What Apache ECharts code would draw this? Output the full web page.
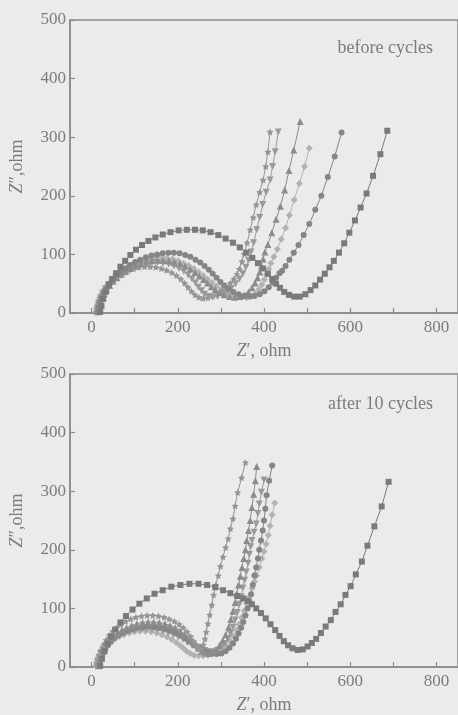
<!DOCTYPE html>
<html>
<head>
<meta charset="utf-8">
<script src="https://cdn.jsdelivr.net/npm/echarts@6/dist/echarts.min.js"></script>
<style>
html,body{margin:0;padding:0;background:#ebebeb;}
#c{width:458px;height:715px;}
</style>
</head>
<body>
<div id="c"></div>
<script>
// ---- tick labels ----
const xLabels = [0, 200, 400, 600, 800];
const xTicks = [0, 100, 200, 300, 400, 500, 600, 700, 800];
const yLabels = [0, 100, 200, 300, 400, 500];
const panelTitles = ['before cycles', 'after 10 cycles'];

// ---- top panel: before cycles (Z', Z'') ----
const topSquares = [[20,2],[23,12],[27,24],[33,36],[40,48],[48,58],[57,68],[67,79],[78,89],[90,99],[103,108],[117,116],[132,123],[148,129],[165,134],[183,138],[202,141],[221,142],[240,142],[258,141],[276,138],[294,133],[311,127],[328,120],[344,112],[359,103],[373,94],[386,85],[398,76],[409,67],[419,58],[428,50],[437,43],[447,36],[458,31],[470,28],[483,28],[496,32],[508,39],[519,47],[530,57],[541,67],[552,78],[562,89],[574,103],[586,119],[598,137],[611,158],[624,180],[638,204],[653,234],[670,271],[686,311]];
const topCircles = [[15,2],[17,10],[20,18],[24,26],[29,34],[35,42],[42,50],[50,57],[59,64],[68,70],[78,76],[89,82],[101,87],[113,91],[126,95],[139,98],[152,100],[165,102],[178,103],[191,103],[204,102],[217,99],[229,96],[241,91],[252,86],[262,80],[272,74],[281,67],[290,60],[299,53],[308,47],[318,41],[329,36],[341,32],[353,29],[366,28],[378,29],[390,32],[401,37],[411,44],[420,52],[428,60],[436,68],[442,72],[450,80],[459,91],[469,103],[480,116],[492,133],[505,152],[519,176],[533,200],[548,232],[564,267],[580,308]];
const topDiamonds = [[12,2],[14,10],[17,18],[21,26],[26,34],[32,42],[39,49],[47,56],[56,63],[65,69],[75,75],[86,80],[98,85],[110,89],[123,92],[136,94],[149,95],[162,95],[175,94],[188,92],[201,89],[213,85],[225,81],[237,76],[248,70],[259,64],[269,58],[279,52],[289,46],[300,41],[311,36],[323,32],[335,29],[347,27],[359,26],[370,28],[380,33],[388,40],[395,48],[401,57],[406,66],[411,75],[416,85],[423,96],[431,109],[440,126],[450,145],[459,167],[470,193],[482,221],[494,250],[505,281]];
const topTriangles = [[15,2],[17,10],[20,18],[24,26],[29,33],[35,40],[42,47],[50,54],[59,60],[69,66],[79,71],[90,76],[102,80],[114,84],[127,87],[140,89],[153,90],[166,90],[179,89],[192,87],[205,84],[217,80],[229,75],[240,69],[250,63],[260,57],[269,51],[278,45],[287,40],[297,35],[308,31],[320,28],[332,27],[344,28],[355,31],[364,36],[372,43],[379,51],[385,60],[390,70],[394,80],[398,92],[402,104],[409,117],[418,137],[428,160],[438,182],[448,210],[458,243],[469,278],[484,327]];
const topDownTri = [[12,2],[14,10],[17,18],[21,26],[26,34],[32,41],[39,48],[47,55],[56,61],[66,67],[77,72],[89,77],[101,80],[114,83],[127,85],[140,86],[153,86],[166,85],[179,83],[191,80],[203,76],[214,71],[224,65],[233,58],[241,51],[248,44],[255,38],[262,32],[271,28],[281,27],[292,28],[303,31],[314,36],[324,42],[334,50],[343,58],[351,67],[358,78],[364,90],[370,104],[376,120],[383,142],[390,163],[397,185],[405,206],[414,227],[420,250],[426,275],[433,309]];
const topStars = [[10,2],[12,10],[15,18],[19,26],[24,33],[30,40],[37,47],[45,53],[54,59],[64,64],[75,69],[86,73],[98,76],[110,78],[123,79],[136,79],[149,78],[162,76],[174,73],[186,69],[197,64],[207,58],[216,51],[224,44],[232,37],[240,31],[249,27],[259,25],[270,26],[281,29],[292,33],[303,38],[313,44],[322,51],[330,58],[337,66],[343,75],[349,88],[354,101],[361,120],[368,142],[375,163],[382,185],[390,206],[398,227],[404,250],[409,275],[414,309]];

// ---- bottom panel: after 10 cycles ----
const botSquares = [[20,2],[24,14],[30,27],[37,40],[45,52],[55,64],[67,76],[80,87],[95,98],[111,108],[128,117],[146,125],[165,131],[185,137],[206,140],[227,142],[248,142],[268,140],[287,136],[305,131],[322,126],[338,121],[352,117],[362,113],[372,107],[382,100],[393,92],[404,83],[415,73],[426,63],[436,53],[446,44],[456,37],[466,32],[478,29],[490,30],[501,35],[511,41],[521,48],[532,58],[543,69],[555,80],[566,94],[578,107],[589,123],[601,138],[613,158],[627,180],[640,207],[656,240],[673,274],[689,316]];
const botStars = [[14,2],[16,11],[19,20],[23,29],[28,38],[34,46],[41,54],[49,61],[58,67],[68,73],[79,78],[91,82],[103,85],[116,87],[129,88],[142,88],[155,87],[168,85],[180,82],[192,78],[203,73],[213,67],[222,60],[230,52],[237,44],[243,37],[249,32],[255,31],[259,38],[263,48],[266,60],[270,74],[274,89],[279,106],[283,123],[288,140],[294,156],[299,172],[305,188],[311,204],[317,219],[322,236],[328,253],[333,275],[339,298],[348,323],[357,349]];
const botTriangles = [[16,2],[18,10],[21,18],[25,26],[30,33],[36,40],[43,47],[51,53],[60,58],[70,63],[81,67],[93,71],[105,74],[118,76],[131,77],[144,77],[157,76],[170,74],[182,71],[194,67],[205,62],[215,56],[224,50],[232,44],[240,38],[248,32],[256,27],[264,24],[273,23],[282,25],[290,30],[297,37],[304,45],[311,55],[318,68],[323,81],[328,95],[333,110],[337,125],[341,140],[345,155],[349,170],[353,185],[357,200],[360,216],[364,233],[368,250],[372,272],[376,295],[380,318],[383,342]];
const botCircles = [[18,2],[20,10],[23,17],[27,24],[32,31],[38,37],[45,43],[53,49],[62,54],[72,58],[83,62],[95,65],[107,67],[120,68],[133,69],[146,68],[159,67],[172,65],[184,62],[196,58],[207,54],[218,49],[228,44],[238,39],[248,34],[258,30],[268,26],[279,23],[290,22],[301,23],[311,27],[320,33],[328,40],[335,48],[341,57],[347,67],[352,77],[357,88],[362,100],[366,112],[370,124],[374,140],[378,156],[382,170],[386,185],[389,200],[393,216],[397,233],[400,250],[403,270],[406,293],[412,318],[419,344]];
const botDownTri = [[12,2],[14,9],[17,16],[21,23],[26,30],[32,36],[39,41],[47,46],[56,51],[66,55],[77,58],[89,61],[101,63],[114,64],[127,65],[140,64],[153,63],[166,61],[178,58],[190,55],[201,51],[212,47],[222,42],[232,38],[242,34],[252,31],[262,28],[272,26],[282,26],[292,28],[301,33],[309,40],[316,48],[322,57],[328,68],[333,80],[338,93],[343,107],[347,120],[351,135],[355,148],[359,162],[363,177],[366,192],[369,205],[372,216],[377,230],[382,244],[386,262],[389,278],[394,298],[400,319]];
const botDiamonds = [[10,2],[12,9],[15,16],[19,22],[24,28],[30,34],[37,39],[45,44],[54,48],[64,52],[75,55],[87,58],[99,60],[112,61],[125,61],[138,60],[151,58],[163,55],[175,51],[186,47],[196,42],[205,37],[213,32],[221,27],[229,23],[238,20],[248,19],[259,19],[270,20],[281,22],[292,25],[302,30],[312,36],[321,44],[329,53],[336,63],[342,73],[348,84],[354,96],[360,108],[366,120],[372,134],[378,146],[383,156],[389,170],[395,185],[400,197],[405,210],[410,225],[414,241],[419,260],[425,280]];

const STAR = 'path://M0,-10 L2.9,-4 L9.5,-3.1 L4.8,1.5 L5.9,8.1 L0,5 L-5.9,8.1 L-4.8,1.5 L-9.5,-3.1 L-2.9,-4 Z';
const FONT = '"Liberation Serif", "DejaVu Serif", serif';
const AX = '#8a8a8a';
const TXT = '#7c7c7c';

function mk(data, gi, symbol, size, color, rotate) {
  return {
    type: 'line', xAxisIndex: gi, yAxisIndex: gi, data: data,
    symbol: symbol, symbolSize: size, symbolRotate: rotate || 0,
    showAllSymbol: true, smooth: false,
    lineStyle: { color: color, width: 1 },
    itemStyle: { color: color, borderWidth: 0 },
    emphasis: { disabled: true }, z: 3
  };
}

function xAx(gi) {
  return {
    type: 'value', gridIndex: gi, min: -50, max: 850,
    name: '{i|Z}′, ohm', nameLocation: 'middle', nameGap: 29,
    nameTextStyle: { fontFamily: FONT, fontSize: 18, color: TXT, rich: { i: { fontStyle: 'italic', fontFamily: FONT, fontSize: 18, color: TXT } } },
    axisLine: { onZero: false, lineStyle: { color: AX, width: 1.5 } },
    axisTick: { inside: true, length: 5, customValues: xTicks, lineStyle: { color: AX, width: 1.2 } },
    axisLabel: { customValues: xLabels, margin: 6, fontFamily: FONT, fontSize: 17, color: TXT },
    splitLine: { show: false }
  };
}
function yAx(gi) {
  return {
    type: 'value', gridIndex: gi, min: 0, max: 500, interval: 100,
    name: '{i|Z}″,ohm', nameLocation: 'middle', nameGap: 44, nameRotate: 90,
    nameTextStyle: { fontFamily: FONT, fontSize: 18, color: TXT, rich: { i: { fontStyle: 'italic', fontFamily: FONT, fontSize: 18, color: TXT } } },
    axisLine: { show: true, onZero: false, lineStyle: { color: AX, width: 1.5 } },
    axisTick: { show: true, inside: true, length: 5, lineStyle: { color: AX, width: 1.2 } },
    axisLabel: { margin: 4, fontFamily: FONT, fontSize: 17, color: TXT, formatter: function(v){ return yLabels.indexOf(v) >= 0 ? String(v) : ''; } },
    splitLine: { show: false }
  };
}

const C_SQ = '#7a7a7a', C_CI = '#858585', C_TR = '#8c8c8c', C_DI = '#b2b2b2', C_DT = '#9a9a9a', C_ST = '#959595';

const chart = echarts.init(document.getElementById('c'), null, { renderer: 'canvas' });
chart.setOption({
  backgroundColor: '#ebebeb',
  animation: false,
  grid: [
    { left: 67, top: 20, right: -3, height: 293, show: true, borderColor: AX, borderWidth: 1.5, backgroundColor: 'transparent' },
    { left: 67, top: 374, right: -3, height: 295, show: true, borderColor: AX, borderWidth: 1.5, backgroundColor: 'transparent' }
  ],
  xAxis: [xAx(0), xAx(1)],
  yAxis: [yAx(0), yAx(1)],
  graphic: [
    { type: 'text', x: 433, y: 48, style: { text: panelTitles[0], fontFamily: FONT, fontSize: 18, fill: TXT, align: 'right', verticalAlign: 'middle' } },
    { type: 'text', x: 433, y: 404, style: { text: panelTitles[1], fontFamily: FONT, fontSize: 18, fill: TXT, align: 'right', verticalAlign: 'middle' } }
  ],
  series: [
    mk(topDiamonds, 0, 'diamond', 7, C_DI),
    mk(topStars, 0, STAR, 7, C_ST),
    mk(topDownTri, 0, 'triangle', 7, C_DT, 180),
    mk(topTriangles, 0, 'triangle', 7, C_TR),
    mk(topCircles, 0, 'circle', 6, C_CI),
    mk(topSquares, 0, 'rect', 6, C_SQ),
    mk(botDiamonds, 1, 'diamond', 7, C_DI),
    mk(botDownTri, 1, 'triangle', 7, C_DT, 180),
    mk(botCircles, 1, 'circle', 6, C_CI),
    mk(botTriangles, 1, 'triangle', 7, C_TR),
    mk(botStars, 1, STAR, 7, C_ST),
    mk(botSquares, 1, 'rect', 6, C_SQ)
  ]
});
</script>
</body>
</html>
